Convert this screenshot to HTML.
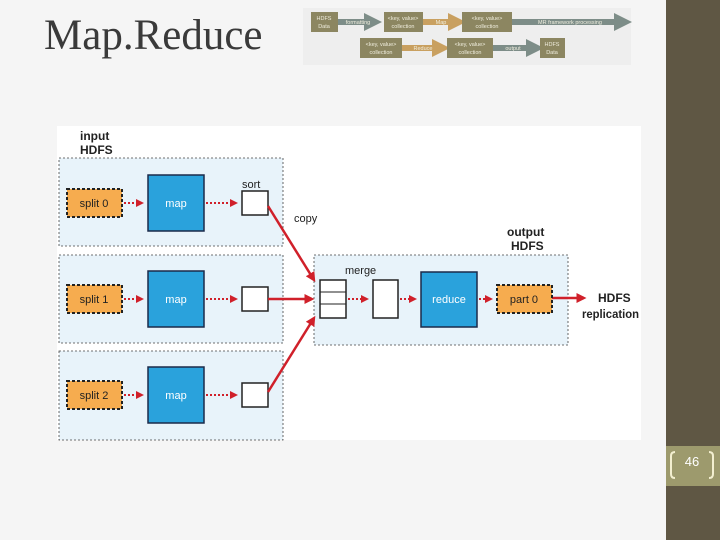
<!DOCTYPE html>
<html><head><style>
body{margin:0;width:720px;height:540px;overflow:hidden;background:#f4f4f4;position:relative;font-family:"Liberation Sans",sans-serif}
</style></head><body>
<svg width="720" height="540" viewBox="0 0 720 540" style="position:absolute;left:0;top:0">
<defs>
<marker id="a" markerWidth="4" markerHeight="4" refX="3" refY="2" orient="auto"><path d="M0,0L4,2L0,4z" fill="#d0202a"/></marker>
<marker id="g" markerWidth="3" markerHeight="3" refX="2" refY="1.5" orient="auto"><path d="M0,0L3,1.5L0,3z" fill="#7d8d88"/></marker>
<marker id="o" markerWidth="3" markerHeight="3" refX="2" refY="1.5" orient="auto"><path d="M0,0L3,1.5L0,3z" fill="#c9a060"/></marker>
</defs>
<rect x="0" y="0" width="666" height="540" fill="#f5f5f5"/>
<rect x="666" y="0" width="54" height="540" fill="#5f5744"/>
<rect x="666" y="446" width="54" height="40" fill="#9d9a6d"/>
<text x="692" y="466" font-size="13" fill="#fff" text-anchor="middle">46</text>
<path d="M675,452 q-4,0 -4,4 v18 q0,4 4,4" stroke="#f3efd0" stroke-width="2" fill="none"/>
<path d="M709,452 q4,0 4,4 v18 q0,4 -4,4" stroke="#f3efd0" stroke-width="2" fill="none"/>
<text x="44" y="49" font-family="Liberation Serif,serif" font-size="43" fill="#3a3a3a">Map.Reduce</text>
<rect x="303" y="8" width="328" height="57" fill="#eeeeee"/>
<g font-size="5.5" fill="#f0eede" text-anchor="middle">
<line x1="338" y1="22" x2="376" y2="22" stroke="#7d8d88" stroke-width="6" marker-end="url(#g)"/>
<line x1="423" y1="22" x2="460" y2="22" stroke="#c9a060" stroke-width="6" marker-end="url(#o)"/>
<line x1="512" y1="22" x2="626" y2="22" stroke="#7d8d88" stroke-width="6" marker-end="url(#g)"/>
<line x1="402" y1="48" x2="444" y2="48" stroke="#c9a060" stroke-width="6" marker-end="url(#o)"/>
<line x1="493" y1="48" x2="538" y2="48" stroke="#7d8d88" stroke-width="6" marker-end="url(#g)"/>
<rect x="311" y="12" width="27" height="20" fill="#8c8661"/><text x="324" y="20">HDFS</text><text x="324" y="28">Data</text>
<rect x="384" y="12" width="39" height="20" fill="#8c8661"/><text x="403" y="20">&lt;key, value&gt;</text><text x="403" y="28">collection</text>
<rect x="462" y="12" width="50" height="20" fill="#8c8661"/><text x="487" y="20">&lt;key, value&gt;</text><text x="487" y="28">collection</text>
<rect x="360" y="38" width="42" height="20" fill="#8c8661"/><text x="381" y="46">&lt;key, value&gt;</text><text x="381" y="54">collection</text>
<rect x="447" y="38" width="46" height="20" fill="#8c8661"/><text x="470" y="46">&lt;key, value&gt;</text><text x="470" y="54">collection</text>
<rect x="540" y="38" width="25" height="20" fill="#8c8661"/><text x="552" y="46">HDFS</text><text x="552" y="54">Data</text>
<text x="358" y="24">formatting</text><text x="441" y="24">Map</text><text x="570" y="24">MR framework processing</text>
<text x="423" y="50">Reduce</text><text x="513" y="50">output</text>
</g>
<rect x="57" y="126" width="584" height="314" fill="#fff"/>
<g>
<text x="80" y="140" font-size="12" font-weight="bold" fill="#222">input</text>
<text x="80" y="154" font-size="12" font-weight="bold" fill="#222">HDFS</text>
<text x="507" y="236" font-size="12" font-weight="bold" fill="#222">output</text>
<text x="511" y="250" font-size="12" font-weight="bold" fill="#222">HDFS</text>
<g fill="#e8f3fa" stroke="#444" stroke-dasharray="2,2" stroke-width="0.8">
<rect x="59" y="158" width="224" height="88"/>
<rect x="59" y="255" width="224" height="88"/>
<rect x="59" y="351" width="224" height="89"/>
<rect x="314" y="255" width="254" height="90"/>
</g>
<g font-size="11">
<g>
<rect x="67" y="189" width="55" height="28" fill="#f6ac4f" stroke="#222" stroke-width="2" stroke-dasharray="3,2"/>
<rect x="148" y="175" width="56" height="56" fill="#2aa2dc" stroke="#1a2a4a" stroke-width="1.5"/>
<rect x="242" y="191" width="26" height="24" fill="#fff" stroke="#222" stroke-width="1.5"/>
<line x1="124" y1="203" x2="142" y2="203" stroke="#d0202a" stroke-width="2" stroke-dasharray="2,2" marker-end="url(#a)"/>
<line x1="206" y1="203" x2="236" y2="203" stroke="#d0202a" stroke-width="2" stroke-dasharray="2,2" marker-end="url(#a)"/>
<text x="94" y="207" text-anchor="middle" fill="#222">split 0</text>
<text x="176" y="207" text-anchor="middle" fill="#fff">map</text>
</g>
<g transform="translate(0,96)">
<rect x="67" y="189" width="55" height="28" fill="#f6ac4f" stroke="#222" stroke-width="2" stroke-dasharray="3,2"/>
<rect x="148" y="175" width="56" height="56" fill="#2aa2dc" stroke="#1a2a4a" stroke-width="1.5"/>
<rect x="242" y="191" width="26" height="24" fill="#fff" stroke="#222" stroke-width="1.5"/>
<line x1="124" y1="203" x2="142" y2="203" stroke="#d0202a" stroke-width="2" stroke-dasharray="2,2" marker-end="url(#a)"/>
<line x1="206" y1="203" x2="236" y2="203" stroke="#d0202a" stroke-width="2" stroke-dasharray="2,2" marker-end="url(#a)"/>
<text x="94" y="207" text-anchor="middle" fill="#222">split 1</text>
<text x="176" y="207" text-anchor="middle" fill="#fff">map</text>
</g>
<g transform="translate(0,192)">
<rect x="67" y="189" width="55" height="28" fill="#f6ac4f" stroke="#222" stroke-width="2" stroke-dasharray="3,2"/>
<rect x="148" y="175" width="56" height="56" fill="#2aa2dc" stroke="#1a2a4a" stroke-width="1.5"/>
<rect x="242" y="191" width="26" height="24" fill="#fff" stroke="#222" stroke-width="1.5"/>
<line x1="124" y1="203" x2="142" y2="203" stroke="#d0202a" stroke-width="2" stroke-dasharray="2,2" marker-end="url(#a)"/>
<line x1="206" y1="203" x2="236" y2="203" stroke="#d0202a" stroke-width="2" stroke-dasharray="2,2" marker-end="url(#a)"/>
<text x="94" y="207" text-anchor="middle" fill="#222">split 2</text>
<text x="176" y="207" text-anchor="middle" fill="#fff">map</text>
</g>
<text x="242" y="188" fill="#222">sort</text>
<text x="294" y="222" fill="#222">copy</text>
<text x="345" y="274" fill="#222">merge</text>
<g stroke="#d0202a" stroke-width="2.5" fill="none">
<line x1="268" y1="206" x2="314" y2="280" marker-end="url(#a)"/>
<line x1="268" y1="299" x2="312" y2="299" marker-end="url(#a)"/>
<line x1="268" y1="392" x2="314" y2="318" marker-end="url(#a)"/>
<line x1="552" y1="298" x2="584" y2="298" marker-end="url(#a)"/>
</g>
<rect x="320" y="280" width="26" height="38" fill="#fff" stroke="#222" stroke-width="1.5"/>
<line x1="320" y1="292" x2="346" y2="292" stroke="#222"/>
<line x1="320" y1="304" x2="346" y2="304" stroke="#222"/>
<rect x="373" y="280" width="25" height="38" fill="#fff" stroke="#222" stroke-width="1.5"/>
<rect x="421" y="272" width="56" height="55" fill="#2aa2dc" stroke="#1a2a4a" stroke-width="1.5"/>
<rect x="497" y="285" width="55" height="28" fill="#f6ac4f" stroke="#222" stroke-width="2" stroke-dasharray="3,2"/>
<g stroke="#d0202a" stroke-width="2" stroke-dasharray="2,2">
<line x1="348" y1="299" x2="367" y2="299" marker-end="url(#a)"/>
<line x1="400" y1="299" x2="415" y2="299" marker-end="url(#a)"/>
<line x1="479" y1="299" x2="491" y2="299" marker-end="url(#a)"/>
</g>
<text x="449" y="303" text-anchor="middle" fill="#fff">reduce</text>
<text x="524" y="303" text-anchor="middle" fill="#222">part 0</text>
<text x="598" y="302" font-size="12" font-weight="bold" fill="#222">HDFS</text>
<text x="582" y="318" font-size="12" font-weight="bold" fill="#222" textLength="57" lengthAdjust="spacingAndGlyphs">replication</text>
</g>
</g>
</svg>
</body></html>
